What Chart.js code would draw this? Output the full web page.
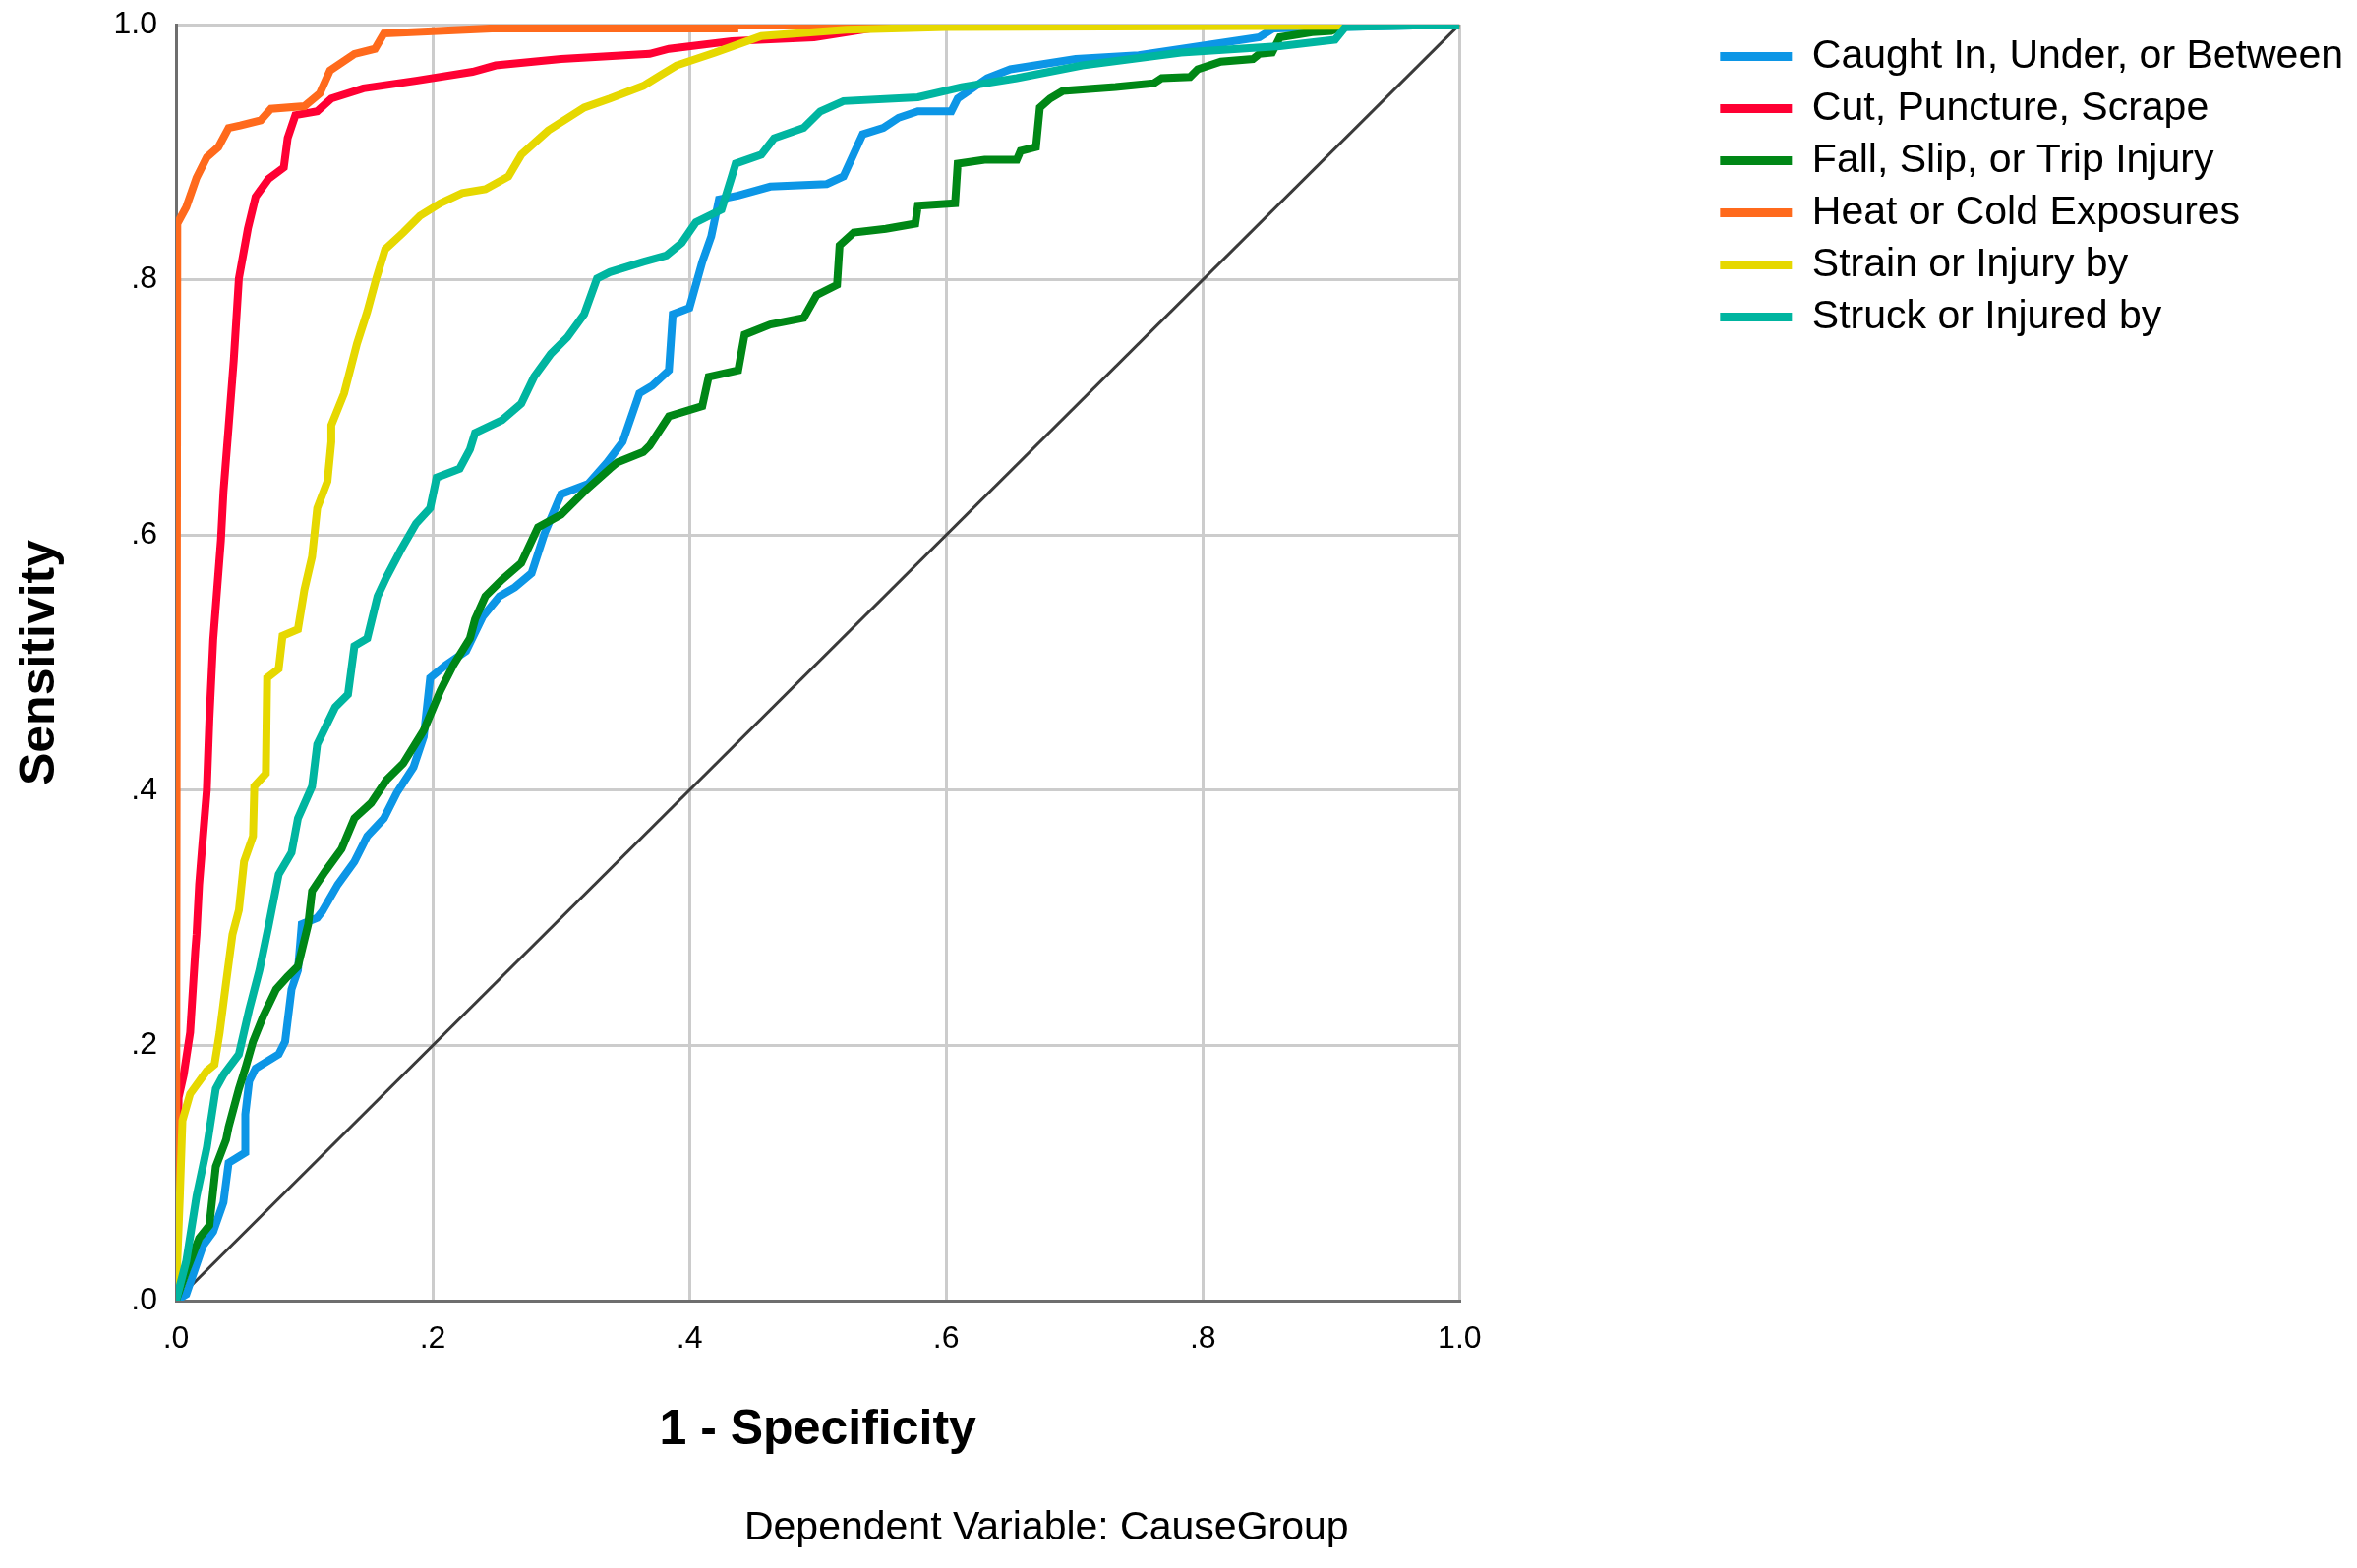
<!DOCTYPE html>
<html>
<head>
<meta charset="utf-8">
<script src="https://cdn.jsdelivr.net/npm/chart.js@4.4.1/dist/chart.umd.min.js"></script>
<style>
html, body { margin: 0; padding: 0; background: #fff; }
#wrap { width: 2397px; height: 1595px; position: relative; }
</style>
</head>
<body>
<div id="wrap"><canvas id="roc"></canvas></div>
<script>
var FONT = '"Liberation Sans", Arial, sans-serif';

var seriesNames = ['Caught In, Under, or Between', 'Cut, Puncture, Scrape', 'Fall, Slip, or Trip Injury',
	'Heat or Cold Exposures', 'Strain or Injury by', 'Struck or Injured by'];
var seriesColors = ['#0c96e6', '#ff0033', '#008716', '#ff6a1c', '#e6d800', '#00b5a0'];
var tickLabels = ['.0', '.2', '.4', '.6', '.8', '1.0'];
var footnoteText = 'Dependent Variable: CauseGroup';

// 1 - specificity (x) and sensitivity (y)
var caughtX = [0, 0.008, 0.021, 0.029, 0.037, 0.041, 0.054, 0.054, 0.057, 0.062, 0.08, 0.085, 0.09, 0.095, 0.098,
	0.11, 0.114, 0.126, 0.139, 0.149, 0.162, 0.172, 0.185, 0.193, 0.198, 0.21, 0.226, 0.239, 0.252, 0.264, 0.277,
	0.287, 0.3, 0.321, 0.336, 0.348, 0.361, 0.371, 0.384, 0.387, 0.4, 0.41, 0.417, 0.423, 0.438, 0.463, 0.507,
	0.52, 0.535, 0.551, 0.563, 0.578, 0.604, 0.609, 0.632, 0.65, 0.701, 0.75, 0.844, 0.855, 1];
var caughtY = [0, 0.005, 0.043, 0.054, 0.077, 0.108, 0.116, 0.146, 0.172, 0.182, 0.193, 0.203, 0.244, 0.259, 0.295,
	0.3, 0.305, 0.326, 0.344, 0.364, 0.378, 0.398, 0.418, 0.442, 0.488, 0.498, 0.509, 0.536, 0.552, 0.559, 0.57,
	0.601, 0.632, 0.64, 0.657, 0.673, 0.711, 0.717, 0.729, 0.773, 0.778, 0.814, 0.834, 0.863, 0.866, 0.873, 0.875,
	0.881, 0.914, 0.919, 0.927, 0.932, 0.932, 0.942, 0.958, 0.965, 0.973, 0.976, 0.99, 0.997, 1];

var cutX = [0, 0.002, 0.006, 0.011, 0.015, 0.016, 0.018, 0.02, 0.024, 0.026, 0.029, 0.035, 0.037, 0.041, 0.045,
	0.049, 0.056, 0.062, 0.072, 0.084, 0.087, 0.093, 0.11, 0.121, 0.146, 0.187, 0.231, 0.249, 0.3, 0.369, 0.384,
	0.433, 0.497, 0.56, 1];
var cutY = [0, 0.159, 0.177, 0.21, 0.274, 0.287, 0.326, 0.351, 0.4, 0.455, 0.518, 0.596, 0.634, 0.685, 0.737,
	0.801, 0.84, 0.865, 0.879, 0.888, 0.911, 0.929, 0.932, 0.942, 0.95, 0.956, 0.963, 0.968, 0.973, 0.977, 0.981,
	0.987, 0.99, 1, 1];

var fallX = [0, 0.008, 0.018, 0.026, 0.031, 0.039, 0.041, 0.049, 0.054, 0.06, 0.068, 0.078, 0.087, 0.095, 0.103,
	0.106, 0.116, 0.129, 0.139, 0.152, 0.164, 0.177, 0.193, 0.206, 0.216, 0.229, 0.233, 0.241, 0.254, 0.269, 0.282,
	0.3, 0.318, 0.338, 0.344, 0.364, 0.369, 0.384, 0.41, 0.415, 0.438, 0.443, 0.463, 0.489, 0.499, 0.515, 0.517,
	0.528, 0.553, 0.576, 0.578, 0.607, 0.609, 0.63, 0.655, 0.658, 0.67, 0.673, 0.681, 0.691, 0.732, 0.762, 0.768,
	0.79, 0.796, 0.814, 0.839, 0.844, 0.854, 0.86, 0.885, 0.9, 0.911, 1];
var fallY = [0, 0.023, 0.049, 0.059, 0.105, 0.126, 0.136, 0.166, 0.182, 0.203, 0.223, 0.244, 0.254, 0.262, 0.295,
	0.321, 0.336, 0.354, 0.378, 0.39, 0.408, 0.421, 0.447, 0.478, 0.498, 0.519, 0.534, 0.552, 0.565, 0.578, 0.606,
	0.616, 0.634, 0.652, 0.657, 0.665, 0.67, 0.693, 0.701, 0.724, 0.729, 0.757, 0.765, 0.77, 0.788, 0.796, 0.827,
	0.837, 0.84, 0.844, 0.858, 0.86, 0.891, 0.894, 0.894, 0.901, 0.904, 0.935, 0.942, 0.948, 0.951, 0.954, 0.958,
	0.959, 0.965, 0.971, 0.973, 0.977, 0.978, 0.99, 0.994, 0.995, 1, 1];

var heatX = [0, 0.001, 0.008, 0.016, 0.024, 0.033, 0.041, 0.05, 0.066, 0.074, 0.1, 0.112, 0.12, 0.139, 0.155,
	0.162, 0.246, 0.435, 0.435, 1];
var heatY = [0, 0.844, 0.857, 0.88, 0.896, 0.904, 0.919, 0.921, 0.925, 0.934, 0.936, 0.946, 0.964, 0.977, 0.981,
	0.993, 0.997, 0.997, 1, 1];

var strainX = [0, 0.001, 0.003, 0.005, 0.011, 0.024, 0.03, 0.034, 0.039, 0.044, 0.049, 0.053, 0.06, 0.061, 0.07,
	0.071, 0.08, 0.083, 0.095, 0.1, 0.106, 0.11, 0.118, 0.121, 0.121, 0.131, 0.141, 0.149, 0.156, 0.163, 0.177,
	0.19, 0.206, 0.223, 0.241, 0.259, 0.269, 0.29, 0.318, 0.338, 0.364, 0.377, 0.39, 0.42, 0.456, 0.522, 0.6,
	0.91, 1];
var strainY = [0, 0.031, 0.082, 0.141, 0.162, 0.18, 0.185, 0.21, 0.249, 0.287, 0.306, 0.344, 0.364, 0.403, 0.413,
	0.488, 0.495, 0.521, 0.526, 0.557, 0.583, 0.621, 0.642, 0.673, 0.686, 0.711, 0.75, 0.775, 0.801, 0.824, 0.837,
	0.85, 0.86, 0.868, 0.871, 0.881, 0.898, 0.917, 0.935, 0.942, 0.952, 0.96, 0.968, 0.978, 0.991, 0.996, 0.998,
	0.999, 1];

var struckX = [0, 0.008, 0.016, 0.024, 0.031, 0.037, 0.049, 0.057, 0.065, 0.072, 0.08, 0.09, 0.095, 0.106, 0.11,
	0.124, 0.134, 0.139, 0.149, 0.157, 0.164, 0.175, 0.187, 0.198, 0.203, 0.221, 0.229, 0.233, 0.254, 0.269, 0.279,
	0.292, 0.305, 0.318, 0.328, 0.338, 0.364, 0.382, 0.394, 0.405, 0.425, 0.433, 0.436, 0.456, 0.466, 0.489, 0.502,
	0.52, 0.578, 0.612, 0.655, 0.706, 0.783, 0.86, 0.903, 0.911, 1];
var struckY = [0, 0.031, 0.082, 0.12, 0.166, 0.177, 0.193, 0.228, 0.259, 0.293, 0.334, 0.351, 0.378, 0.403, 0.436,
	0.465, 0.475, 0.513, 0.519, 0.552, 0.567, 0.588, 0.609, 0.621, 0.645, 0.652, 0.667, 0.68, 0.69, 0.703, 0.724,
	0.742, 0.755, 0.773, 0.801, 0.806, 0.814, 0.819, 0.829, 0.845, 0.855, 0.881, 0.891, 0.898, 0.911, 0.919, 0.932,
	0.94, 0.943, 0.951, 0.958, 0.968, 0.978, 0.983, 0.988, 0.998, 1];

var diagX = [0, 1];
var diagY = [0, 1];

var seriesX = [caughtX, cutX, fallX, heatX, strainX, struckX];
var seriesY = [caughtY, cutY, fallY, heatY, strainY, struckY];

function toPoints(xs, ys) {
	var pts = [];
	for (var i = 0; i < xs.length; i++) {
		pts.push({ x: xs[i], y: ys[i] });
	}
	return pts;
}

function buildDatasets() {
	var sets = [];
	for (var i = 0; i < seriesNames.length; i++) {
		sets.push({
			label: seriesNames[i],
			data: toPoints(seriesX[i], seriesY[i]),
			borderColor: seriesColors[i],
			backgroundColor: seriesColors[i],
			borderWidth: 8,
			pointRadius: 0,
			lineTension: 0,
			fill: false,
			// later series sit on top, like the original
			order: seriesNames.length - i
		});
	}
	sets.push({
		label: 'reference',
		data: toPoints(diagX, diagY),
		borderColor: '#3a3a3a',
		borderWidth: 3,
		pointRadius: 0,
		fill: false,
		order: seriesNames.length + 1
	});
	return sets;
}

function tickText(value) {
	return tickLabels[Math.round(value * 5)];
}

var footnote = {
	id: 'footnote',
	beforeDraw: function(chart) {
		var ctx = chart.ctx;
		ctx.save();
		ctx.fillStyle = '#fff';
		ctx.fillRect(0, 0, chart.width, chart.height);
		ctx.restore();
	},
	afterDraw: function(chart) {
		var ctx = chart.ctx;
		ctx.save();
		ctx.font = '41px ' + FONT;
		ctx.fillStyle = '#000';
		ctx.textAlign = 'center';
		ctx.textBaseline = 'middle';
		ctx.fillText(footnoteText, chart.width * 0.444, chart.height - 40);
		ctx.restore();
	}
};

var gridStyle = { color: '#cccccc', lineWidth: 3, drawTicks: false };
var borderStyle = { color: '#6e6e6e', width: 3 };

new Chart(document.getElementById('roc'), {
	type: 'line',
	data: { datasets: buildDatasets() },
	plugins: [footnote],
	options: {
		responsive: true,
		maintainAspectRatio: false,
		animation: false,
		layout: { padding: { top: 25, bottom: 110, left: 0, right: 4 } },
		scales: {
			x: {
				type: 'linear', position: 'bottom', min: 0, max: 1,
				grid: gridStyle, border: borderStyle,
				ticks: { stepSize: 0.2, padding: 20, color: '#000', font: { family: FONT, size: 32 }, callback: tickText },
				title: { display: true, text: '1 - Specificity', color: '#000', padding: 0,
					font: { family: FONT, size: 50, weight: 'bold' } },
				afterFit: function(s) { s.height = 162; }
			},
			y: {
				type: 'linear', position: 'left', min: 0, max: 1,
				grid: gridStyle, border: borderStyle,
				ticks: { stepSize: 0.2, padding: 19, color: '#000', font: { family: FONT, size: 32 }, callback: tickText },
				title: { display: true, text: 'Sensitivity', color: '#000', padding: { top: 11, bottom: 0 },
					font: { family: FONT, size: 50, weight: 'bold' } },
				afterFit: function(s) {
					s.width = 179;
					s.paddingTop = 0;
					s.paddingBottom = 0;
				}
			},
			gap: {
				type: 'linear', position: 'right', display: true,
				grid: { display: false }, border: { display: false }, ticks: { display: false },
				afterFit: function(s) { s.width = 253; }
			}
		},
		plugins: {
			tooltip: { enabled: false },
			legend: {
				position: 'right', align: 'start', maxWidth: 720, onClick: null,
				labels: {
					boxWidth: 73, boxHeight: 9, padding: 12, color: '#000',
					font: { family: FONT, size: 41 },
					filter: function(item) { return item.datasetIndex < seriesNames.length; },
					sort: function(a, b) { return a.datasetIndex - b.datasetIndex; },
					generateLabels: function(chart) {
						var items = Chart.defaults.plugins.legend.labels.generateLabels(chart);
						items.forEach(function(it) { it.fillStyle = it.strokeStyle; it.lineWidth = 0; });
						return items;
					}
				}
			}
		}
	}
});
</script>
</body>
</html>
